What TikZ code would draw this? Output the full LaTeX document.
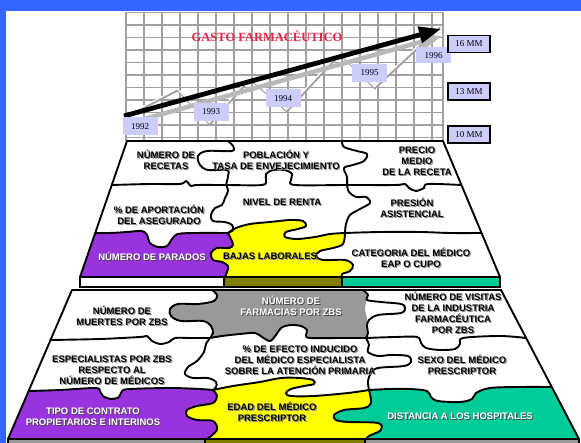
\documentclass[tikz,border=0pt]{standalone}
\usepackage{fontspec}
\setmainfont{Liberation Serif}
\setsansfont{Liberation Sans}
\usetikzlibrary{arrows.meta}
\definecolor{bluebg}{HTML}{3366FF}
\definecolor{lav}{HTML}{CCCCFF}
\definecolor{purp}{HTML}{9933DD}
\definecolor{yel}{HTML}{FFFF00}
\definecolor{teal2}{HTML}{00CC99}
\definecolor{olive2}{HTML}{808000}
\definecolor{graypc}{HTML}{999999}
\definecolor{titlered}{HTML}{EE2244}
\definecolor{gridc}{HTML}{A0A0A0}
\definecolor{shlight}{HTML}{8A8A8A}
\definecolor{shdark}{HTML}{4A4A4A}
\newcommand{\plbl}[6]{%
  \node[lbl,text=#5,xshift=1.1pt,yshift=-1.1pt] at (#2,#3) {#6};
  \node[lbl,text=#4] (#1) at (#2,#3) {#6};}
\begin{document}
\begin{tikzpicture}[x=1pt,y=-1pt,
  gridline/.style={gridc,line width=1.3pt},
  bound/.style={black,line width=1.9pt,line join=round},
  lbl/.style={font=\sffamily\bfseries\fontsize{9.5}{11}\selectfont,align=center,inner sep=0pt},
  yearbox/.style={fill=lav,font=\rmfamily\fontsize{9}{10}\selectfont,minimum width=35pt,minimum height=18pt,inner sep=0pt},
  mmbox/.style={fill=lav,draw=black,line width=1.8pt,font=\rmfamily\fontsize{9}{10}\selectfont,minimum width=42pt,minimum height=17pt,inner sep=0pt},
  barbox/.style={draw=black,line width=1.3pt},
  sm/.style={smooth,tension=0.55}]
\useasboundingbox (0,0) rectangle (581,443);
\fill[white] (0,0) rectangle (581,443);
\fill[bluebg] (0,0) rectangle (581,11);
\fill[bluebg] (0,0) rectangle (6,443);

% ---------- chart grid ----------
\foreach \i in {0,...,17} \draw[gridline] (126+18*\i,12) -- (126+18*\i,141);
\draw[gridline] (443,12) -- (443,141);
\foreach \j in {0,...,10} \draw[gridline] (126,12.5+12.5*\j) -- (443,12.5+12.5*\j);

% zig-zag ribbon
\draw[gray!75,line width=2.4pt,line join=miter] (126,117) -- (178,90) -- (210,124) -- (250,79) -- (287,111) -- (340,54) -- (375,88) -- (440,27);
\draw[white,line width=1.2pt,xshift=-0.6pt,yshift=1.3pt] (126,117) -- (178,90) -- (210,124) -- (250,79) -- (287,111) -- (340,54) -- (375,88) -- (440,27);

% trend arrows
\draw[gray!55,line width=4.5pt,-{Triangle[length=22pt,width=16pt]}] (130,123) -- (442,36);
\draw[black,line width=4.8pt,-{Triangle[length=22pt,width=16pt]}] (124,116) -- (441,29);

\node[font=\rmfamily\bfseries\fontsize{12.5}{14}\selectfont,text=titlered] (title) at (267,36) {GASTO FARMACÉUTICO};

\node[yearbox] (y1992) at (140,126.5) {1992};
\node[yearbox] (y1993) at (211,112) {1993};
\node[yearbox] (y1994) at (283,98.5) {1994};
\node[yearbox] (y1995) at (369.5,73) {1995};
\node[yearbox,minimum height=16pt] (y1996) at (433.5,55.5) {1996};

\node[mmbox] (m16) at (469,44) {16 MM};
\node[mmbox] (m13) at (469,91.5) {13 MM};
\node[mmbox] (m10) at (469,134.5) {10 MM};

% ---------- upper puzzle ----------
\fill[purp] (80,277) -- (95.5,233)
  -- plot[sm] coordinates {(95.5,233)(110,233)(127,232)(142,231)(147,235)(150,243)(158,247)(167,246)(172,239)(178,234)(195,233)(228,233)}
  -- plot[sm] coordinates {(228,233)(231,239)(233,245)(229,248)(217,248)(211,253)(213,260)(222,262)(228,266)(227,272)(225,277)} -- cycle;
\fill[yel] (228,233)
  -- plot[sm] coordinates {(228,233)(236,228)(250,224)(270,222)(290,220)(303,221)(306,226)(298,229)(286,232)(285,237)(297,239)(315,237)(330,234)(345,233)}
  -- plot[sm] coordinates {(345,233)(343,244)(333,248)(320,251)(316,256)(323,260)(345,260)(353,265)(350,271)(342,274)(342,277)}
  -- (225,277)
  -- plot[sm] coordinates {(225,277)(227,272)(228,266)(222,262)(213,260)(211,253)(217,248)(229,248)(233,245)(231,239)(228,233)} -- cycle;

% row boundaries
\draw[bound] plot[sm] coordinates {(111.8,185)(150,184)(180,184)(186,181)(191,186)(197,185)(226,185)(262,185)(266,180)(266,174)(273,170)(285,170)(292,174)(291,180)(295,185)(347,185)(395,185)(405,184)(409,188)(416,191)(424,188)(428,184)(461.4,185)};
\draw[bound] plot[sm] coordinates {(95.5,233)(110,233)(127,232)(142,231)(147,235)(150,243)(158,247)(167,246)(172,239)(178,234)(195,233)(228,233)};
\draw[bound] plot[sm] coordinates {(228,233)(236,228)(250,224)(270,222)(290,220)(303,221)(306,226)(298,229)(286,232)(285,237)(297,239)(315,237)(330,234)(345,233)};
\draw[bound] plot[sm] coordinates {(345,233)(380,232)(420,232)(450,233)(481.6,233)};
% column boundaries
\draw[bound] plot[sm] coordinates {(228,141)(233,146)(232,151)(207,151)(198,156)(200,165)(208,170)(227,170)(228,176)(226,185)};
\draw[bound] plot[sm] coordinates {(342,141)(344,147)(357,151)(367,154)(364,161)(353,165)(344,168)(347,177)(347,185)};
\draw[bound] plot[sm] coordinates {(226,185)(228,191)(225,198)(222,205)(215,208)(211,215)(213,221)(225,222)(232,225)(233,230)(228,233)};
\draw[bound] plot[sm] coordinates {(347,185)(349,192)(356,197)(366,197)(370,203)(360,209)(350,215)(346,224)(345,233)};
\draw[bound] plot[sm] coordinates {(228,233)(231,239)(233,245)(229,248)(217,248)(211,253)(213,260)(222,262)(228,266)(227,272)(225,277)};
\draw[bound] plot[sm] coordinates {(345,233)(343,244)(333,248)(320,251)(316,256)(323,260)(345,260)(353,265)(350,271)(342,274)(342,277)};
\draw[bound] (127,141) -- (443,141) -- (500,277) -- (80,277) -- cycle;

\draw[barbox,fill=white] (80,277) rectangle (224,287);
\draw[barbox,fill=olive2] (224,277) rectangle (342,287);
\draw[barbox,fill=teal2] (342,277) rectangle (500,287);

% ---------- lower puzzle ----------
\fill[graypc] (212,290) -- (363,290)
  -- plot[sm] coordinates {(363,290)(367,296)(366,302)(365,310)(367,318)(367,326)(368,333)(366,338)}
  -- plot[sm] coordinates {(366,338)(340,338)(310,338)(306,335)(307,330)(301,326)(290,325)(281,328)(276,335)(270,341)(262,337)(255,333)(240,334)(222,336)(210,338)}
  -- plot[sm] coordinates {(210,338)(213,333)(211,326)(203,321)(181,321)(171,316)(170,309)(178,304)(198,304)(214,301)(217,295)(212,290)} -- cycle;
\fill[purp] (8,439) -- (28.6,391)
  -- plot[sm] coordinates {(28.6,391)(60,390)(95,388)(100,391)(103,396)(111,399)(119,397)(122,391)(130,389)(170,388)(200,389)(213,390)}
  -- plot[sm] coordinates {(213,390)(217,396)(213,403)(197,406)(187,410)(187,416)(197,420)(213,421)(217,430)(207,439)} -- cycle;
\fill[yel] (213,390)
  -- plot[sm] coordinates {(213,390)(233,386)(260,382)(281,378)(300,378)(313,380)(314,384)(304,386)(291,389)(286,393)(291,396)(314,396)(348,393)(369,390)}
  -- plot[sm] coordinates {(369,390)(371,403)(364,408)(344,410)(334,415)(336,420)(348,422)(378,423)(381,430)(369,436)(366,439)}
  -- (207,439)
  -- plot[sm] coordinates {(207,439)(217,430)(213,421)(197,420)(187,416)(187,410)(197,406)(213,403)(217,396)(213,390)} -- cycle;
\fill[teal2] (369,390)
  -- plot[sm] coordinates {(369,390)(390,389)(410,389)(427,391)(431,397)(438,401)(460,402)(472,399)(476,393)(490,388)(520,387)(551.8,387)}
  -- (579,439) -- (366,439)
  -- plot[sm] coordinates {(366,439)(369,436)(381,430)(378,423)(348,422)(336,420)(334,415)(344,410)(364,408)(371,403)(369,390)} -- cycle;

\draw[bound] plot[sm] coordinates {(212,290)(217,295)(214,301)(198,304)(178,304)(170,309)(171,316)(181,321)(203,321)(211,326)(213,333)(210,338)};
\draw[bound] plot[sm] coordinates {(210,338)(222,336)(240,334)(255,333)(262,337)(270,341)(276,335)(281,328)(290,325)(301,326)(307,330)(306,335)(310,338)(340,338)(366,338)};
\draw[bound] plot[sm] coordinates {(363,290)(368,295)(367,300)(381,302)(401,304)(405,308)(401,313)(378,315)(369,320)(367,326)(368,333)(366,338)};
\draw[bound] plot[sm] coordinates {(50.5,340)(100,339)(140,337)(147,336)(152,341)(160,344)(169,342)(175,338)(190,338)(210,338)};
\draw[bound] plot[sm] coordinates {(366,338)(395,337)(417,337)(421,343)(426,348)(440,350)(455,349)(460,344)(463,338)(500,336)(526.1,338)};
\draw[bound] plot[sm] coordinates {(210,338)(206,344)(204,352)(197,361)(188,367)(185,374)(193,378)(208,378)(216,382)(216,387)(213,390)};
\draw[bound] plot[sm] coordinates {(366,338)(369,345)(368,352)(378,356)(391,355)(408,356)(411,362)(404,366)(378,368)(371,373)(368,381)(369,390)};
\draw[bound] plot[sm] coordinates {(28.6,391)(60,390)(95,388)(100,391)(103,396)(111,399)(119,397)(122,391)(130,389)(170,388)(200,389)(213,390)};
\draw[bound] plot[sm] coordinates {(213,390)(233,386)(260,382)(281,378)(300,378)(313,380)(314,384)(304,386)(291,389)(286,393)(291,396)(314,396)(348,393)(369,390)};
\draw[bound] plot[sm] coordinates {(369,390)(390,389)(410,389)(427,391)(431,397)(438,401)(460,402)(472,399)(476,393)(490,388)(520,387)(551.8,387)};
\draw[bound] plot[sm] coordinates {(213,390)(217,396)(213,403)(197,406)(187,410)(187,416)(197,420)(213,421)(217,430)(207,439)};
\draw[bound] plot[sm] coordinates {(369,390)(371,403)(364,408)(344,410)(334,415)(336,420)(348,422)(378,423)(381,430)(369,436)(366,439)};
\draw[bound] (72,290) -- (501,290) -- (579,439) -- (8,439) -- cycle;

\draw[barbox,fill=graypc] (8,439) rectangle (205,444);
\draw[barbox,fill=olive2] (205,439) rectangle (365,444);
\draw[barbox,fill=graypc] (365,439) rectangle (579,444);

% ---------- labels ----------
\plbl{u1}{166}{160}{black}{shlight}{NÚMERO DE\\RECETAS}
\plbl{u2}{276}{160}{black}{shlight}{POBLACIÓN Y\\TASA DE ENVEJECIMIENTO}
\plbl{u3}{417}{161.5}{black}{shlight}{PRECIO\\MEDIO\\DE LA RECETA}
\plbl{u4}{159}{214.5}{black}{shlight}{\% DE APORTACIÓN\\DEL ASEGURADO}
\plbl{u5}{282}{202}{black}{shlight}{NIVEL DE RENTA}
\plbl{u6}{412}{208}{black}{shlight}{PRESIÓN\\ASISTENCIAL}
\plbl{u7}{152}{256}{white}{shdark}{NÚMERO DE PARADOS}
\plbl{u8}{270}{256}{black}{shlight}{BAJAS LABORALES}
\plbl{u9}{411}{257.5}{black}{shlight}{CATEGORIA DEL MÉDICO\\EAP O CUPO}

\plbl{l1}{122}{315.5}{black}{shlight}{NÚMERO DE\\MUERTES POR ZBS}
\plbl{l2}{291}{305.5}{white}{shdark}{NÚMERO DE\\FARMACIAS POR ZBS}
\plbl{l3}{453}{312.5}{black}{shlight}{NÚMERO DE VISITAS\\DE LA INDUSTRIA\\FARMACÉUTICA\\POR ZBS}
\plbl{l4}{112}{370}{black}{shlight}{ESPECIALISTAS POR ZBS\\RESPECTO AL\\NÚMERO DE MÉDICOS}
\plbl{l5}{300}{360}{black}{shlight}{\% DE EFECTO INDUCIDO\\DEL MÉDICO ESPECIALISTA\\SOBRE LA ATENCIÓN PRIMARIA}
\plbl{l6}{462}{364.5}{black}{shlight}{SEXO DEL MÉDICO\\PRESCRIPTOR}
\plbl{l7}{93}{416.5}{white}{shdark}{TIPO DE CONTRATO\\PROPIETARIOS E INTERINOS}
\plbl{l8}{272}{412}{black}{shlight}{EDAD DEL MÉDICO\\PRESCRIPTOR}
\plbl{l9}{460}{416}{white}{shdark}{DISTANCIA A LOS HOSPITALES}
\end{tikzpicture}
\end{document}
